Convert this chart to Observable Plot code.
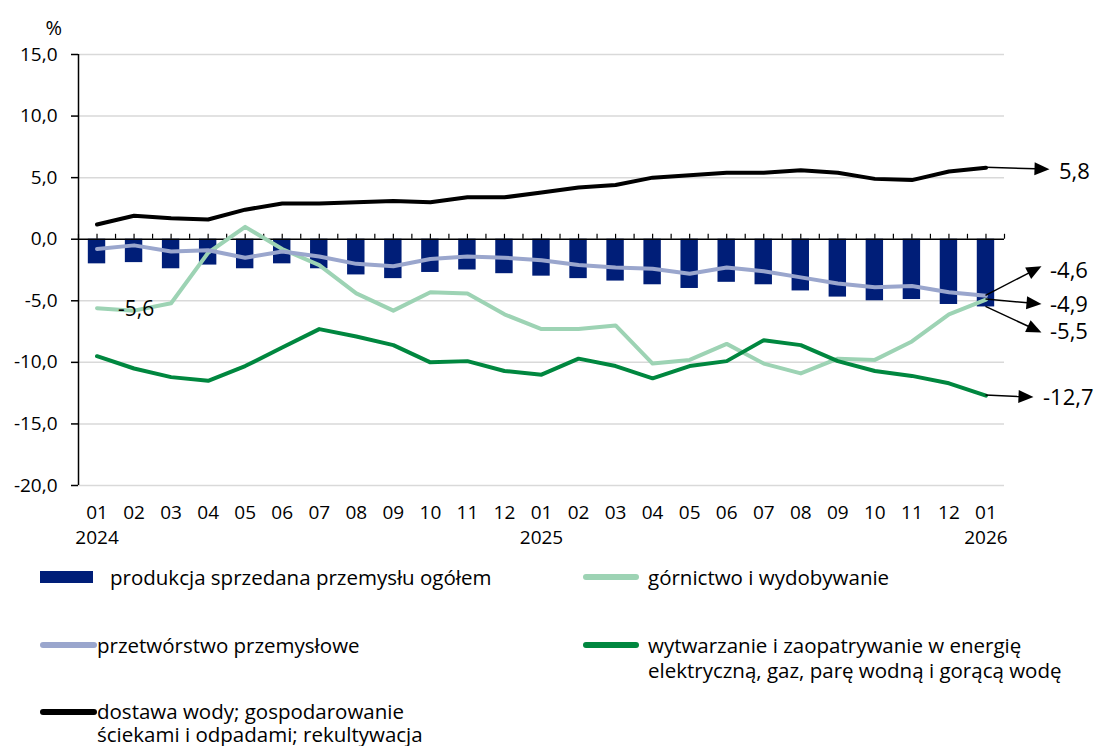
<!DOCTYPE html>
<html><head><meta charset="utf-8">
<script src="https://cdn.jsdelivr.net/npm/d3@7"></script>
<script src="https://cdn.jsdelivr.net/npm/@observablehq/plot@0.6"></script>
<style>
body{margin:0;background:#fff;font-family:"Open Sans",sans-serif;}
#wrap{position:relative;width:1094px;height:746px;overflow:hidden;}
.leg{position:absolute;font-size:20.5px;line-height:24.5px;color:#000;white-space:nowrap;}
.sw{position:absolute;}
</style></head><body><div id="wrap"></div>
<script>
const months = ["01","02","03","04","05","06","07","08","09","10","11","12","01","02","03","04","05","06","07","08","09","10","11","12","01"];
const years = ["2024","","","","","","","","","","","","2025","","","","","","","","","","","","2026"];
const yTicks = [-20, -15, -10, -5, 0, 5, 10, 15];

const total = [-2.0,-1.9,-2.4,-2.1,-2.4,-2.0,-2.4,-2.9,-3.2,-2.7,-2.5,-2.8,-3.0,-3.2,-3.4,-3.7,-4.0,-3.5,-3.7,-4.2,-4.7,-5.0,-4.9,-5.3,-5.5];
const mining = [-5.6,-5.8,-5.2,-1.1,1.0,-0.8,-2.1,-4.4,-5.8,-4.3,-4.4,-6.1,-7.3,-7.3,-7.0,-10.1,-9.8,-8.5,-10.1,-10.9,-9.7,-9.8,-8.3,-6.1,-4.9];
const manufacturing = [-0.8,-0.5,-1.0,-0.9,-1.5,-1.0,-1.4,-2.0,-2.2,-1.6,-1.4,-1.5,-1.7,-2.1,-2.3,-2.4,-2.8,-2.3,-2.6,-3.1,-3.6,-3.9,-3.8,-4.3,-4.6];
const energy = [-9.5,-10.5,-11.2,-11.5,-10.3,-8.8,-7.3,-7.9,-8.6,-10.0,-9.9,-10.7,-11.0,-9.7,-10.3,-11.3,-10.3,-9.9,-8.2,-8.6,-9.9,-10.7,-11.1,-11.7,-12.7];
const water = [1.2,1.9,1.7,1.6,2.4,2.9,2.9,3.0,3.1,3.0,3.4,3.4,3.8,4.2,4.4,5.0,5.2,5.4,5.4,5.6,5.4,4.9,4.8,5.5,5.8];

const seriesNames = {
  total: "produkcja sprzedana przemysłu ogółem",
  mining: "górnictwo i wydobywanie",
  manufacturing: "przetwórstwo przemysłowe",
  energy: "wytwarzanie i zaopatrywanie w energię elektryczną, gaz, parę wodną i gorącą wodę",
  water: "dostawa wody; gospodarowanie ściekami i odpadami; rekultywacja"
};
const colors = {total: "#001e78", mining: "#9dd3b4", manufacturing: "#9aa6cd", energy: "#00873f", water: "#000000"};
const FONT = '"Open Sans", sans-serif';

const fmt = v => v.toFixed(1).replace(".", ",");
const idx = d3.range(months.length);
const rows = idx.map(i => ({i, total: total[i]}));
const lineSeries = {mining, manufacturing, energy, water};

// end-of-series annotations (pixel offsets of arrow tip and label from last point)
const endNotes = [
  {values: water, tx: 64, ty: 2, lx: 73, ly: 4},
  {values: manufacturing, tx: 56, ty: -29, lx: 64, ly: -25},
  {values: mining, tx: 56, ty: 5, lx: 64, ly: 5},
  {values: total, tx: 56, ty: 26, lx: 64, ly: 25},
  {values: energy, tx: 48, ty: 2, lx: 57, ly: 2}
];
const last = months.length - 1;

const lineMarks = Object.entries(lineSeries).map(([k, vals]) =>
  Plot.line(idx, {x: i => i, y: i => vals[i], stroke: colors[k], strokeWidth: 4, strokeLinejoin: "round", strokeLinecap: "round"})
);

const endLabelMarks = endNotes.map(n =>
  Plot.text([last], {x: i => i, y: i => n.values[i], text: i => fmt(n.values[i]), dx: n.lx, dy: n.ly, textAnchor: "start", fontSize: 22, fill: "#000"})
);

function arrows(index, {x, y}) {
  const g = d3.create("svg:g");
  for (const n of endNotes) {
    const x0 = x(last), y0 = y(n.values[last]);
    const x1 = x0 + n.tx, y1 = y0 + n.ty;
    const ang = Math.atan2(n.ty, n.tx);
    const L = 15, W = 6.5;
    const c = Math.cos(ang), s = Math.sin(ang);
    const bx = x1 - L * c, by = y1 - L * s;
    g.append("line").attr("x1", x0).attr("y1", y0).attr("x2", bx + c).attr("y2", by + s)
      .attr("stroke", "#000").attr("stroke-width", 1.5);
    g.append("path").attr("d", `M${x1},${y1}L${bx - W * s},${by + W * c}L${bx + W * s},${by - W * c}Z`).attr("fill", "#000");
  }
  return g.node();
}

const chart = Plot.plot({
  width: 1094, height: 560,
  marginLeft: 78, marginRight: 90, marginTop: 54, marginBottom: 75,
  style: {fontFamily: FONT, fontSize: "19px", color: "#000", background: "transparent", overflow: "visible"},
  x: {domain: [-0.5, 24.5], axis: null, label: null},
  y: {domain: [-20, 15], axis: null, label: null},
  marks: [
    Plot.gridY(yTicks.filter(t => t !== 0), {stroke: "#d9d9d9", strokeOpacity: 1, strokeWidth: 1.5}),
    Plot.axisY(yTicks, {tickSize: 7, tickPadding: 14, tickFormat: fmt, fontSize: 19, stroke: "#000", strokeWidth: 1.5, label: null}),
    Plot.ruleX([-0.5], {stroke: "#000", strokeWidth: 1.5}),
    Plot.rectY(rows, {x1: d => d.i - 0.235, x2: d => d.i + 0.235, y: "total", fill: colors.total}),
    Plot.ruleY([0], {stroke: "#000", strokeWidth: 1.5}),
    Plot.ruleX(d3.range(-0.5, 24.51, 0.5), {y1: 0, y2: 0.4, stroke: "#000", strokeWidth: 1.2}),
    ...lineMarks,
    Plot.text([0], {x: i => i, y: i => mining[i], text: i => fmt(mining[i]), dx: 21, dy: 1, textAnchor: "start", fontSize: 21, fill: "#000"}),
    Plot.text(idx, {x: i => i, text: i => years[i] ? months[i] + "\n" + years[i] : months[i], frameAnchor: "bottom", lineAnchor: "top", dy: 16, lineHeight: 1.3, fontSize: 19, fill: "#000"}),
    Plot.text(["%"], {frameAnchor: "top-left", dx: -33, dy: -34, fontSize: 20, fill: "#000"}),
    arrows,
    ...endLabelMarks
  ]
});

const wrap = document.getElementById("wrap");
wrap.appendChild(chart);

const legend = [
  {key: "total", type: "rect", sx: 40, sy: 571, tx: 110, ty: 565},
  {key: "mining", type: "line", sx: 583, sy: 574, tx: 648, ty: 565},
  {key: "manufacturing", type: "line", sx: 40, sy: 642, tx: 97, ty: 633, w: 380},
  {key: "energy", type: "line", sx: 583, sy: 642, tx: 648, ty: 633, w: 430},
  {key: "water", type: "line", sx: 40, sy: 709, tx: 97, ty: 700, w: 340, lh: 22.5}
];
for (const l of legend) {
  const sw = document.createElement("div");
  sw.className = "sw";
  sw.style.left = l.sx + "px";
  sw.style.top = l.sy + "px";
  sw.style.background = colors[l.key];
  if (l.type === "rect") { sw.style.width = "53px"; sw.style.height = "12px"; }
  else { sw.style.width = (l.sx === 40 ? 57 : 56) + "px"; sw.style.height = "6px"; sw.style.borderRadius = "3px"; }
  wrap.appendChild(sw);
  const t = document.createElement("div");
  t.className = "leg";
  t.style.left = l.tx + "px";
  t.style.top = l.ty + "px";
  t.style.fontFamily = FONT;
  if (l.lh) t.style.lineHeight = l.lh + "px";
  if (l.w) { t.style.whiteSpace = "normal"; t.style.width = l.w + "px"; }
  t.textContent = seriesNames[l.key];
  wrap.appendChild(t);
}
</script></body></html>
